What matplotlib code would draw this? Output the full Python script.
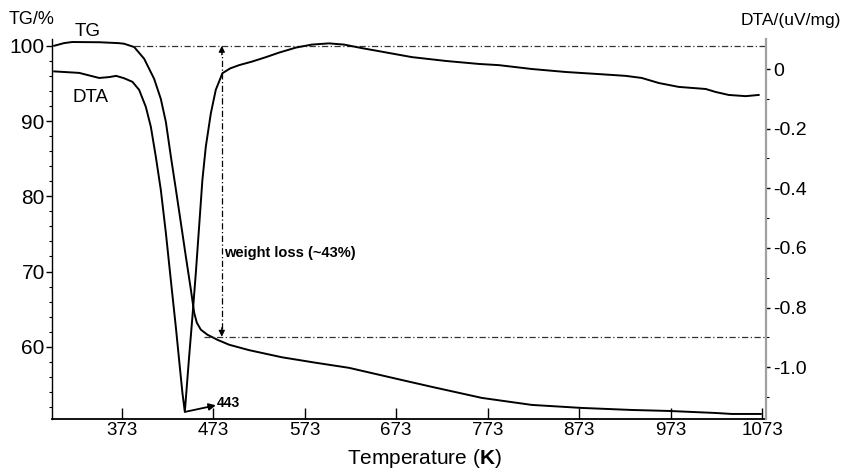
import matplotlib
matplotlib.use("Agg")
import matplotlib.pyplot as plt
from matplotlib.ticker import FixedLocator, MultipleLocator

plt.rcParams['font.family'] = ['Liberation Sans', 'DejaVu Sans']
plt.rcParams['mathtext.fontset'] = 'custom'
plt.rcParams['mathtext.rm'] = 'Liberation Sans'
plt.rcParams['mathtext.bf'] = 'Liberation Sans:bold'

# ---- data ----
tg_temp = [299.4, 310, 319, 348.5, 370, 375.8, 386.8, 397.7, 408.6, 415.9, 421.4,
           426.8, 432.3, 437.7, 443.2, 448.7, 452.3, 455.2, 459.6, 466.8, 477.7,
           490.5, 512.3, 548.3, 585.4, 621.5, 676, 712, 766.7, 821.3, 875.8,
           930.4, 970.8, 1022, 1039.6, 1071.3]
tg_values = [100.0, 100.35, 100.5, 100.47, 100.35, 100.27, 99.83, 98.27, 95.6, 92.93, 89.87,
             85.33, 80.93, 76.53, 72.0, 67.6, 64.53, 63.2, 62.27, 61.6, 60.93,
             60.27, 59.55, 58.6, 57.87, 57.2, 55.67, 54.67, 53.2, 52.27, 51.87,
             51.6, 51.47, 51.2, 51.07, 51.07]

dta_temp = [299.4, 326.7, 348.5, 359.5, 367.1, 375.8, 384.9, 392.2, 399.5, 405, 410.4,
            415.9, 421.4, 426.8, 432.3, 435.9, 439.5, 442.1, 446.8, 450.4, 454.1,
            457.7, 461.3, 465, 470.5, 475.9, 483.2, 491.6, 501.4, 515.6, 530.9, 545,
            563.6, 581, 599.6, 616, 635.7, 654, 690, 727.4, 763.4, 785.2, 821.3,
            858.4, 894.4, 923.9, 941.3, 960, 981.7, 1011.2, 1022, 1036.3, 1054.9, 1069]
dta_values = [-0.008, -0.013, -0.030, -0.027, -0.023, -0.031, -0.043, -0.070, -0.127, -0.194, -0.294,
              -0.406, -0.550, -0.708, -0.866, -0.977, -1.087, -1.150, -0.965, -0.831, -0.685,
              -0.529, -0.372, -0.261, -0.149, -0.070, -0.014, 0.002, 0.013, 0.025, 0.040, 0.055,
              0.072, 0.082, 0.086, 0.082, 0.070, 0.060, 0.040, 0.027, 0.017, 0.013, 0.0,
              -0.010, -0.017, -0.023, -0.030, -0.047, -0.060, -0.067, -0.077, -0.087, -0.091, -0.087]

x_ticks = [373, 473, 573, 673, 773, 873, 973, 1073]
tg_ticks = [60, 70, 80, 90, 100]
dta_ticks = [0, -0.2, -0.4, -0.6, -0.8, -1.0]
dta_tick_labels = ['0', '-0.2', '-0.4', '-0.6', '-0.8', '-1.0']

tg_start, tg_end = 100.0, 61.33
peak_temp, peak_dta = 442.5, -1.150
peak_label = '443'

# ---- figure ----
fig = plt.figure(figsize=(8.44, 4.71), dpi=100)
ax = fig.add_axes([52/844, 1-419/471, (766-52)/844, (419-39)/471])
ax2 = ax.twinx()

ax.plot(tg_temp, tg_values, color='black', lw=1.4, solid_joinstyle='round')
ax2.plot(dta_temp, dta_values, color='black', lw=1.4, solid_joinstyle='round')

ax.set_xlim(297, 1077)
ax.set_ylim(50.4, 100.9)
ax2.set_ylim(-1.174, 0.1007)

# spines
for a in (ax, ax2):
    a.spines['top'].set_visible(False)
ax.spines['right'].set_visible(False)
ax2.spines['left'].set_visible(False)
ax2.spines['bottom'].set_visible(False)
ax.spines['left'].set_linewidth(1.0)
ax.spines['bottom'].set_linewidth(1.3)
ax2.spines['right'].set_color('#a0a0a0')
ax2.spines['right'].set_linewidth(1.6)

# ticks
ax.xaxis.set_major_locator(FixedLocator(x_ticks))
ax.tick_params(axis='x', direction='in', length=8, width=1.0, labelsize=13.5, pad=2)
ax.yaxis.set_major_locator(FixedLocator(tg_ticks))
ax.yaxis.set_minor_locator(MultipleLocator(2))
ax.tick_params(axis='y', which='major', direction='out', length=4, width=1.0, labelsize=15, pad=1.2)
ax.tick_params(axis='y', which='minor', direction='out', length=2.5, width=0.8)

ax2.yaxis.set_major_locator(FixedLocator(dta_ticks))
ax2.set_yticklabels(dta_tick_labels)
ax2.yaxis.set_minor_locator(FixedLocator([-0.1, -0.3, -0.5, -0.7, -0.9, -1.1]))
ax2.tick_params(axis='y', which='major', direction='out', length=3, width=1.0, labelsize=14, pad=2)
ax2.tick_params(axis='y', which='minor', direction='out', length=2, width=0.8)

# axis titles
fig.text(9/844, 1-20/471, 'TG/%', fontsize=13, ha='left', va='center')
fig.text(841/844, 1-20/471, 'DTA/(uV/mg)', fontsize=12.5, ha='right', va='center')
fig.text(424/844, 1-459/471, r'Temperature ($\mathbf{K}$)', fontsize=15, ha='center', va='center')

# curve labels
fig.text(88/844, 1-32/471, 'TG', fontsize=13.5, ha='center', va='center')
fig.text(91/844, 1-97/471, 'DTA', fontsize=13.5, ha='center', va='center')

# weight-loss annotation
dash = (0, (5, 2, 1, 2))
ax.plot([386.8, 1077], [tg_start, tg_start], color='#333333', lw=0.9, linestyle=dash)
ax.plot([463, 1077], [tg_end, tg_end], color='#333333', lw=0.9, linestyle=dash)
arrow_x = 482.5
ax.plot([arrow_x, arrow_x], [tg_end + 1.0, tg_start - 1.0], color='black', lw=0.9, linestyle=dash)
for y0, y1 in ((tg_start - 1.2, tg_start), (tg_end + 1.2, tg_end)):
    ax.annotate('', xy=(arrow_x, y1), xytext=(arrow_x, y0),
                arrowprops=dict(arrowstyle='-|>', color='black', lw=0.9, mutation_scale=9,
                                shrinkA=0, shrinkB=0))
ax.text(485, 72.5, 'weight loss (~43%)', fontsize=10.5, fontweight='bold', ha='left', va='center')

# peak annotation
ax2.annotate('', xy=(476, -1.128), xytext=(peak_temp, peak_dta),
             arrowprops=dict(arrowstyle='-|>', color='black', lw=1.3, mutation_scale=10,
                             shrinkA=0, shrinkB=0))
ax2.text(477, -1.122, peak_label, fontsize=10, fontweight='bold', ha='left', va='center')

fig.savefig('out.png', dpi=100)
